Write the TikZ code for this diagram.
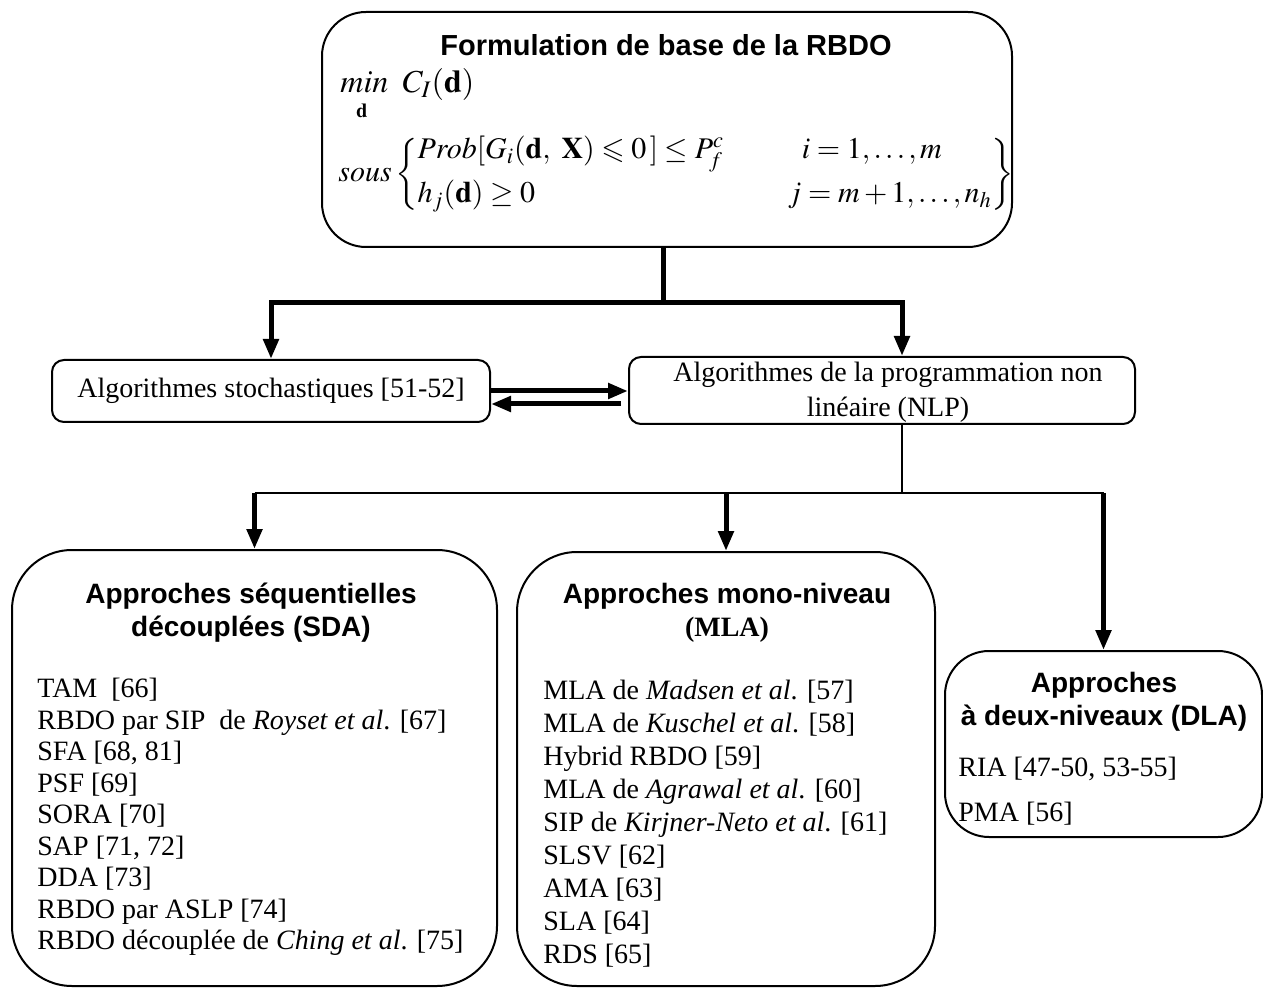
\documentclass[tikz,border=0pt]{standalone}
\usepackage{amsmath, amssymb}
\usepackage{mathptmx}
\usepackage{fontspec}
\setmainfont{Liberation Serif}
\setsansfont{Liberation Sans}
\usetikzlibrary{arrows.meta, fit, positioning}

\tikzset{
	bigbox/.style={draw, line width=1pt, rounded corners=#1, inner sep=0pt},
	txt/.style={inner sep=0pt, font=\fontsize{14}{15.75}\selectfont},
	head/.style={inner sep=0pt, align=center, font=\fontsize{14}{16.5}\selectfont\sffamily\bfseries},
	heavy/.style={line width=2.5pt},
	light/.style={line width=1.2pt},
	tip/.style={-{Triangle[length=10pt,width=7.5pt]}},
}

\begin{document}
\begin{tikzpicture}[x=0.5pt,y=-0.5pt]
		\useasboundingbox (0,0) rectangle (1263,989);
		\node[bigbox=22pt, fit={(322,12) (1012,247)}] (rbdo) {};
		\node[head, font=\fontsize{14.5}{17}\selectfont\sffamily\bfseries, anchor=base] (rbdotitle) at (666,56) {Formulation de base de la RBDO};
		\node[anchor=base west, inner sep=0pt, font=\fontsize{16}{18}\selectfont] (objf) at (340,93) {$min\;\; C_{I}(\mathbf{d})$};
		\node[anchor=base, inner sep=0pt, font=\fontsize{10}{12}\selectfont] (objd) at (362,118) {$\mathbf{d}$};
		\node[anchor=west, inner sep=0pt, font=\fontsize{15}{17}\selectfont] (cons) at (338,174) {$sous\left\{\begin{array}{@{}l@{\hspace{32pt}}l@{}} Prob[G_{i}(\mathbf{d},\ \mathbf{X})\leqslant 0\,]\le P_{f}^{c} & \hspace{7pt}i=1,\ldots,m\\[5pt] h_{j}(\mathbf{d})\ge 0 & j=m+1,\ldots,n_{h}\end{array}\right\}$};

		\node[bigbox=6pt, fit={(52,360) (490,422)}] (stoch) {};
		\node[txt] (stochtxt) at (stoch) {Algorithmes stochastiques [51-52]};
		\node[bigbox=6pt, fit={(629,357) (1135,424)}] (nlp) {};
		\node[txt, align=center, font=\fontsize{14}{17.5}\selectfont] (nlptxt) at (888,392) {Algorithmes de la programmation non\\linéaire (NLP)};

		\node[bigbox=30pt, fit={(12,550) (497,986)}] (sda) {};
		\node[head, anchor=north] (sdatitle) at (251,583) {Approches séquentielles\\découplées (SDA)};
		\node[txt, align=left, anchor=north west] (sdalist) at (37,678) {TAM~~[66]\\RBDO par SIP~~de \textit{Royset et al}. [67]\\SFA [68, 81]\\PSF [69]\\SORA [70]\\SAP [71, 72]\\DDA [73]\\RBDO par ASLP [74]\\RBDO découplée de \textit{Ching et al}. [75]};

		\node[bigbox=30pt, fit={(517,552) (935,986)}] (mla) {};
		\node[head, anchor=north] (mlatitle) at (727,583) {Approches mono-niveau\\{\rmfamily (MLA)}};
		\node[txt, align=left, anchor=north west, font=\fontsize{14}{16.5}\selectfont] (mlalist) at (543,680) {MLA de \textit{Madsen et al}. [57]\\MLA de \textit{Kuschel et al}. [58]\\Hybrid RBDO [59]\\MLA de \textit{Agrawal et al}. [60]\\SIP de \textit{Kirjner-Neto et al}. [61]\\SLSV [62]\\AMA [63]\\SLA [64]\\RDS [65]};

		\node[bigbox=22pt, fit={(945,651) (1262,837)}] (dla) {};
		\node[head, anchor=north] (dlatitle) at (1104,672) {Approches\\à deux-niveaux (DLA)};
		\node[txt, align=left, anchor=north west, font=\fontsize{14}{22.5}\selectfont] (dlalist) at (958,757) {RIA [47-50, 53-55]\\PMA [56]};

		\coordinate (split) at (663,303);
		\coordinate (branch) at (902,493);
		\draw[heavy] (split |- rbdo.south) -- (split);
		\draw[heavy, tip] (split) -| (stoch.north);
		\draw[heavy, tip] (split) -| (nlp.north -| branch);
		\draw[heavy, tip] (stoch.east) -- (stoch.east -| nlp.west);
		\draw[heavy, tip] ([xshift=-3.5pt,yshift=-6.5pt]nlp.west |- stoch.east) -- ([yshift=-6.5pt]stoch.east);
		\draw[light] (nlp.south -| branch) -- (branch);
		\draw[light] (sda.north |- branch) -- (dla.north |- branch);
		\foreach \b in {sda, mla, dla}
			\draw[heavy, tip] (\b.north |- branch) -- (\b.north);
	\end{tikzpicture}
\end{document}
